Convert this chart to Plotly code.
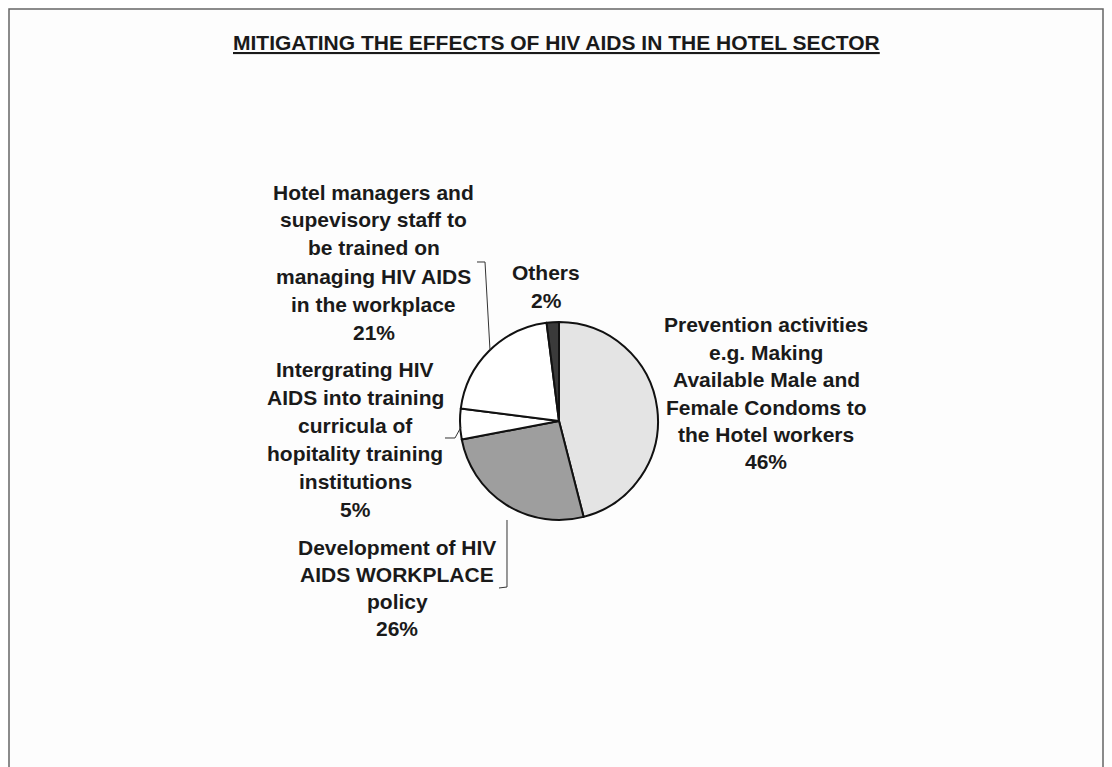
import plotly.graph_objects as go

W, H = 1112, 767
OFF = 8  # page body margin

# slices clockwise from 12 o'clock
labels = [
    "Prevention activities e.g. Making Available Male and Female Condoms to the Hotel workers",
    "Development of HIV AIDS WORKPLACE policy",
    "Intergrating HIV AIDS into training curricula of hopitality training institutions",
    "Hotel managers and supevisory staff to be trained on managing HIV AIDS in the workplace",
    "Others",
]
values = [46, 26, 5, 21, 2]
label_lines = [
    ["Prevention activities", "e.g. Making", "Available Male and", "Female Condoms to", "the Hotel workers"],
    ["Development of HIV", "AIDS WORKPLACE", "policy"],
    ["Intergrating HIV", "AIDS into training", "curricula of", "hopitality training", "institutions"],
    ["Hotel managers and", "supevisory staff to", "be trained on", "managing HIV AIDS", "in the workplace"],
    ["Others"],
]
title = "MITIGATING THE EFFECTS OF HIV AIDS IN THE HOTEL SECTOR"

colors = ["#e4e4e4", "#9e9e9e", "#ffffff", "#ffffff", "#3a3a3a"]
# label block anchor (centre x, first-line y, line step) in screen pixels
label_pos = [(766, 325, 27.4), (397, 547, 27.0), (355, 369, 28.0), (374, 192, 28.0), (546, 272, 28.0)]
leaders = [
    None,
    [(499, 588), (507, 587), (507, 520)],
    [(445, 438), (455, 438), (461, 427)],
    [(477, 262), (485, 262), (490, 350)],
    None,
]
FONT = dict(family="Liberation Sans, Arial", size=21, color="#1a1a1a")

FW, FH = W - OFF, H - OFF


def px(x, y):
    return (x - OFF) / FW, 1 - (y - OFF) / FH


cx, cy, r = 559, 421, 99
(dx0, dy1), (dx1, dy0) = px(cx - r, cy - r), px(cx + r, cy + r)
fig = go.Figure(go.Pie(
    labels=labels, values=values, sort=False, direction="clockwise", rotation=0,
    marker=dict(colors=colors, line=dict(color="#111111", width=2)),
    textinfo="none", hoverinfo="label+percent", showlegend=False,
    domain=dict(x=[dx0, dx1], y=[dy0, dy1]),
))

annotations = []
for lines, v, (lx, ly, step) in zip(label_lines, values, label_pos):
    for i, t in enumerate(lines + [f"{v}%"]):
        x, y = px(lx, ly + i * step)
        annotations.append(dict(x=x, y=y, xref="paper", yref="paper", text=f"<b>{t}</b>",
                                showarrow=False, font=FONT, xanchor="center", yanchor="middle"))
tx, ty = px(556, 42)
annotations.append(dict(x=tx, y=ty, xref="paper", yref="paper", text=f"<b><u>{title}</u></b>",
                        showarrow=False, font=FONT, xanchor="center", yanchor="middle"))

shapes = []
for pts in leaders:
    if not pts:
        continue
    path = "M " + " L ".join(f"{px(x, y)[0]:.5f},{px(x, y)[1]:.5f}" for x, y in pts)
    shapes.append(dict(type="path", path=path, xref="paper", yref="paper",
                       line=dict(color="#333333", width=1)))
x0, y0 = px(9, 9)
x1, y1 = px(1103, 775)
shapes.append(dict(type="rect", x0=x0, y0=y0, x1=x1, y1=y1, xref="paper", yref="paper",
                   line=dict(color="#666666", width=1.5)))

fig.update_layout(
    width=FW, height=FH, margin=dict(l=0, r=0, t=0, b=0),
    paper_bgcolor="#fdfdfd", plot_bgcolor="#fdfdfd",
    annotations=annotations, shapes=shapes,
)
fig.write_html("out.html")
